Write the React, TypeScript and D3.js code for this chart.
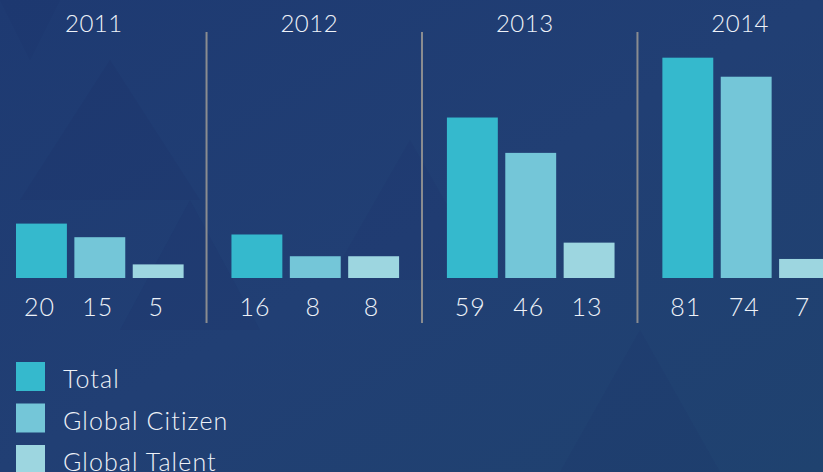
import React from "react";
import * as d3 from "d3";

const years = ["2011", "2012", "2013", "2014"];
const seriesNames = ["Total", "Global Citizen", "Global Talent"];
const totalValues = [20, 16, 59, 81];
const globalCitizenValues = [15, 8, 46, 74];
const globalTalentValues = [5, 8, 13, 7];
const colors = ["#35b9cd", "#74c6d8", "#9dd6e0"];

const W = 823;
const H = 472;

export default function App() {
  const seriesValues = [totalValues, globalCitizenValues, globalTalentValues];
  const x0 = d3.scaleBand<string>().domain(years).range([16, 830]).paddingInner(0.222).paddingOuter(0);
  const x1 = d3.scaleBand<string>().domain(seriesNames).range([0, x0.bandwidth()]).paddingInner(0.128).paddingOuter(0);
  const y = d3.scaleLinear().domain([0, 100]).range([278, 6]);
  const gap = x0.step() - x0.bandwidth();

  const font = "Lato, 'DejaVu Sans', sans-serif";

  const triangles = [
    { pts: "20,200 110,60 200,200", o: 0.18 },
    { pts: "120,330 190,200 260,330", o: 0.12 },
    { pts: "330,280 410,140 490,280", o: 0.1 },
    { pts: "560,472 640,330 720,472", o: 0.1 },
    { pts: "0,0 60,0 30,60", o: 0.1 },
  ];

  return (
    <div style={{ position: "fixed", left: 0, top: 0, width: W, height: H }}>
      <svg width={W} height={H} style={{ display: "block" }}>
        <defs>
          <linearGradient id="bg" x1="0" y1="0" x2="1" y2="1">
            <stop offset="0" stopColor="#1e3a72" />
            <stop offset="0.5" stopColor="#213f74" />
            <stop offset="1" stopColor="#1f426f" />
          </linearGradient>
        </defs>
        <rect width={W} height={H} fill="url(#bg)" />
        {triangles.map((t, i) => (
          <polygon key={i} points={t.pts} fill="#1a2a66" opacity={t.o} />
        ))}
        {years.slice(1).map((yr) => (
          <line
            key={"div" + yr}
            x1={(x0(yr) as number) - gap / 2 - 1}
            x2={(x0(yr) as number) - gap / 2 - 1}
            y1={32}
            y2={323}
            stroke="#8a8c90"
            strokeWidth={2}
          />
        ))}
        {years.map((yr, gi) => (
          <g key={yr} transform={`translate(${x0(yr)},0)`}>
            <text
              x={x0.bandwidth() / 2 - 6}
              y={32}
              textAnchor="middle"
              fill="#eef2f8"
              fontFamily={font}
              fontWeight={300}
              fontSize={24}
              letterSpacing={0.5}
            >
              {yr}
            </text>
            {seriesNames.map((s, si) => {
              const v = seriesValues[si][gi];
              const bx = x1(s) as number;
              return (
                <g key={s}>
                  <rect x={bx} y={y(v)} width={x1.bandwidth()} height={y(0) - y(v)} fill={colors[si]} />
                  <text
                    x={bx + x1.bandwidth() / 2 - 2}
                    y={316}
                    textAnchor="middle"
                    fill="#eef2f8"
                    fontFamily={font}
                    fontWeight={300}
                    fontSize={25}
                    letterSpacing={1}
                  >
                    {v}
                  </text>
                </g>
              );
            })}
          </g>
        ))}
        {seriesNames.map((s, i) => (
          <g key={"lg" + s} transform={`translate(16,${362 + i * 41.5})`}>
            <rect width={29} height={29} fill={colors[i]} />
            <text x={47} y={26} fill="#eef2f8" fontFamily={font} fontWeight={300} fontSize={25} letterSpacing={1.1}>
              {s}
            </text>
          </g>
        ))}
      </svg>
    </div>
  );
}
